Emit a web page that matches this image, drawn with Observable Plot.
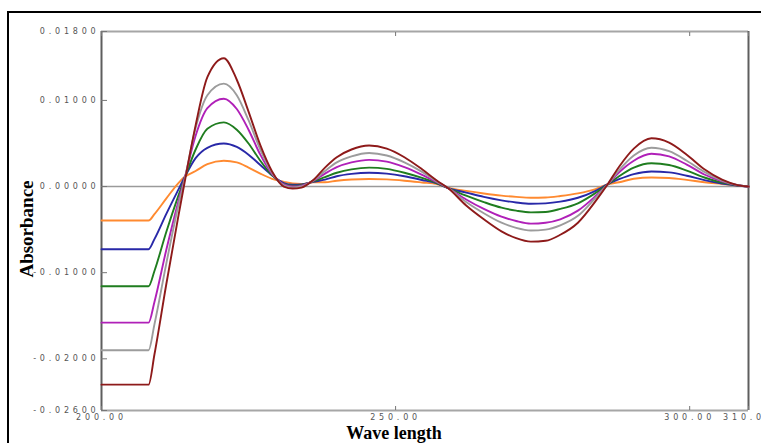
<!DOCTYPE html>
<html><head><meta charset="utf-8">
<script src="https://cdn.jsdelivr.net/npm/d3@7"></script>
<script src="https://cdn.jsdelivr.net/npm/@observablehq/plot@0.6"></script>
<style>
html,body{margin:0;padding:0;background:#fff;overflow:hidden;}
#wrap{position:relative;width:761px;height:443px;overflow:hidden;}
#border{position:absolute;left:7px;top:11px;width:800px;height:500px;border:2.5px solid #000;box-sizing:border-box;}
#chart{position:absolute;left:0;top:0;}
#chart [aria-label$="tick label"] text{letter-spacing:3.8px;}
</style>
</head><body>
<div id="wrap"><div id="border"></div><div id="chart"></div></div>
<script>
// wavelength samples (nm)
const wavelengths = [200, 208, 209, 211, 213, 214, 216, 218, 220.8, 223, 225, 227, 229, 231, 232.5, 234, 236, 238, 240, 242.5, 245.5, 248.5, 251.5, 254.5, 257, 259, 262, 265, 268, 270.5, 273, 275.5, 278, 281, 284, 286, 288, 290.5, 293.5, 296.5, 299.5, 302.5, 305.5, 308, 310];

const orangeValues = [-0.00395, -0.00395, -0.0032, -0.0014, 0.00035, 0.00105, 0.0018, 0.0026, 0.0030, 0.0028, 0.0022, 0.0015, 0.0009, 0.00055, 0.00035, 0.0003, 0.0005,
  0.0005, 0.00068, 0.00082, 0.00088, 0.00083, 0.00068, 0.00047, 0.00028, -0.00015,
  -0.0005, -0.0008, -0.00105, -0.0012, -0.0013, -0.00127, -0.0011, -0.0008, -0.0003, 0.00025,
  0.0005, 0.0009, 0.00105, 0.0010, 0.00078, 0.0005, 0.0003, 0.00012, 0.0];
const blueValues = [-0.00728, -0.00728, -0.0061, -0.0032, -0.00045, 0.0009, 0.0033, 0.0045, 0.0050, 0.0046, 0.0037, 0.0025, 0.0013, 0.0004, 0.0002, 0.00025, 0.00055,
  0.0008, 0.0012, 0.00147, 0.0016, 0.0015, 0.0012, 0.00076, 0.00036, -0.0002,
  -0.0007, -0.0012, -0.0016, -0.00185, -0.0020, -0.00195, -0.00175, -0.0013, -0.0005, 0.00025,
  0.00085, 0.00145, 0.00175, 0.00165, 0.00125, 0.00075, 0.00035, 0.00012, 0.0];
const greenValues = [-0.01157, -0.01157, -0.0098, -0.0053, -0.0012, 0.0007, 0.0043, 0.0067, 0.00745, 0.0066, 0.0050, 0.0030, 0.0013, 0.0003, 0.0001, 0.0002, 0.0006,
  0.0011, 0.0016, 0.0020, 0.0022, 0.00205, 0.0016, 0.0010, 0.0004, -0.0002,
  -0.00105, -0.0018, -0.00245, -0.0028, -0.0030, -0.00295, -0.0026, -0.00195, -0.00075, 0.0002,
  0.0012, 0.0022, 0.0027, 0.0025, 0.00185, 0.00105, 0.00045, 0.00015, 0.0];
const magentaValues = [-0.0158, -0.0158, -0.0134, -0.0074, -0.0019, 0.0006, 0.0059, 0.0091, 0.0102, 0.0090, 0.0066, 0.0037, 0.00145, 0.00025, 0.0, 0.0001, 0.00065,
  0.0015, 0.00225, 0.0028, 0.0031, 0.0029, 0.00225, 0.00135, 0.0005, -0.0002,
  -0.0015, -0.0026, -0.0035, -0.0040, -0.0043, -0.0042, -0.0038, -0.0028, -0.0011, 0.0002,
  0.00165, 0.0030, 0.0038, 0.0035, 0.00255, 0.0014, 0.0006, 0.00018, 0.0];
const grayValues = [-0.0190, -0.0190, -0.0160, -0.0090, -0.0024, 0.0004, 0.0068, 0.0106, 0.01195, 0.0106, 0.0077, 0.0043, 0.0016, 0.00015, -0.0001, 0.0, 0.0007,
  0.0018, 0.0028, 0.0035, 0.0039, 0.0036, 0.0028, 0.0017, 0.0006, -0.0002,
  -0.0018, -0.0031, -0.0042, -0.0048, -0.0051, -0.0050, -0.0045, -0.0034, -0.0013, 0.0002,
  0.0019, 0.0036, 0.0045, 0.0041, 0.0030, 0.0017, 0.0007, 0.0002, 0.0];
const redValues = [-0.0230, -0.0230, -0.0195, -0.0114, -0.0037, 0.0, 0.0071, 0.0127, 0.0149, 0.0124, 0.0087, 0.0048, 0.00175, 0.0, -0.00023, -0.00012, 0.00075,
  0.0022, 0.0034, 0.0043, 0.00476, 0.0044, 0.0034, 0.0020, 0.0007, -0.00023,
  -0.0022, -0.0038, -0.0052, -0.0060, -0.0064, -0.0063, -0.0056, -0.0042, -0.0017, 0.0002,
  0.0023, 0.0044, 0.0056, 0.0051, 0.0037, 0.0020, 0.0008, 0.0002, 0.0];

const seriesNames = ["S1", "S2", "S3", "S4", "S5", "S6"];
const seriesColors = ["#ff8a30", "#2828a8", "#1f7d1f", "#b020b8", "#9c9c9c", "#8e1a1a"];
const seriesValues = [orangeValues, blueValues, greenValues, magentaValues, grayValues, redValues];

const xDomain = [200, 310];
const yDomain = [-0.026, 0.018];
const xTicks = [200, 250, 300, 310];
const yTicks = [0.018, 0.01, 0, -0.01, -0.02, -0.026];

const rows = [];
seriesNames.forEach((name, s) => {
  wavelengths.forEach((wl, i) => rows.push({series: name, wl, v: seriesValues[s][i]}));
});

const fmtY = d => d.toFixed(5);
const fmtX = d => d.toFixed(2);
const blank = () => "";

const chart = Plot.plot({
  width: 761, height: 443,
  marginLeft: 101, marginRight: 13, marginTop: 31, marginBottom: 33,
  x: {domain: xDomain},
  y: {domain: yDomain},
  color: {domain: seriesNames, range: seriesColors},
  style: {fontFamily: "DejaVu Sans", background: "transparent", overflow: "visible"},
  marks: [
    Plot.ruleY([0], {stroke: "#9a9a9a", strokeWidth: 1.5}),
    Plot.ruleY(yDomain, {stroke: "#a6a6a6", strokeWidth: 2}),
    Plot.ruleX(xDomain, {stroke: "#5e5e5e", strokeWidth: 2}),
    Plot.line(rows, {x: "wl", y: "v", z: "series", stroke: "series", curve: "monotone-x", strokeWidth: 1.9}),
    Plot.axisY(yTicks, {tickSize: -6, tickFormat: blank, stroke: "#777", label: null}),
    Plot.axisY(yTicks, {tickSize: 0, tickPadding: 2, tickFormat: fmtY, fontSize: 8, fill: "#555", label: null}),
    Plot.axisX(xTicks, {tickSize: -4, tickFormat: blank, stroke: "#777", label: null}),
    Plot.axisX(xTicks, {anchor: "top", tickSize: -4, tickFormat: blank, stroke: "#777", label: null}),
    Plot.axisX(xTicks, {tickSize: 0, tickPadding: 4, tickFormat: fmtX, fontSize: 8, fill: "#555", label: null}),
    Plot.text(["Absorbance"], {text: d => d, frameAnchor: "left", textAnchor: "middle", lineAnchor: "middle", dx: -75, dy: 8, rotate: -90,
      fontFamily: "Liberation Serif", fontWeight: "bold", fontSize: 19, fill: "#000"}),
    Plot.text(["Wave length"], {text: d => d, frameAnchor: "bottom", textAnchor: "middle", lineAnchor: "middle", dx: -31, dy: 23,
      fontFamily: "Liberation Serif", fontWeight: "bold", fontSize: 18, fill: "#000"})
  ]
});
document.getElementById("chart").appendChild(chart);
</script>
</body></html>
